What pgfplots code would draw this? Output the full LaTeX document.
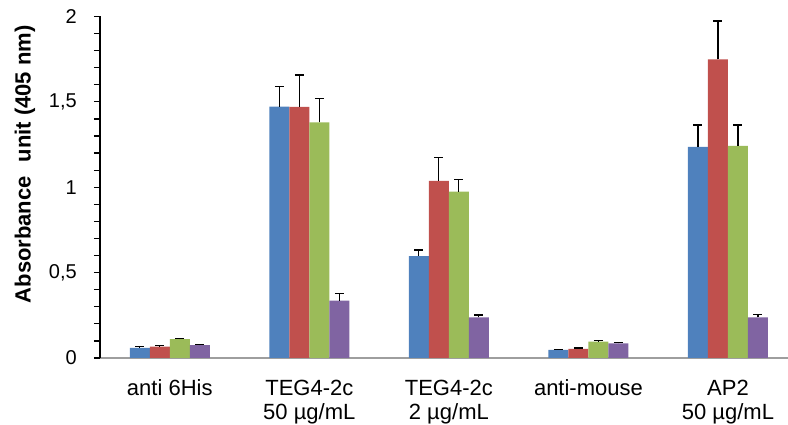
\documentclass[border=0pt]{standalone}
\usepackage{pgfplots}
\pgfplotsset{compat=1.18}
\usepackage{fontspec}
\setmainfont{Liberation Sans}
\definecolor{cblue}{HTML}{4F81BD}
\definecolor{cred}{HTML}{C0504D}
\definecolor{cgreen}{HTML}{9BBB59}
\definecolor{cpurple}{HTML}{8064A2}
\pgfplotsset{errstyle/.style={
  error bars/y dir=plus, error bars/y explicit,
  error bars/error bar style={black, line width=1.2pt},
  error bars/error mark options={rotate=90, black, mark size=4.5pt, line width=1.2pt}}}
\begin{document}
\begin{tikzpicture}
\begin{axis}[
  at={(0,0)}, anchor=south west,
  scale only axis, width=688pt, height=341.5pt,
  xmin=-0.5, xmax=4.43, ymin=0, ymax=2,
  axis lines*=left,
  x axis line style={draw=black!38, line width=1.5pt},
  y axis line style={draw=black, line width=1.3pt},
  ybar=0pt, bar width=20pt,
  xtick={0,1,2,3,4},
  xticklabels={{\strut anti 6His},{\strut TEG4-2c\\50 µg/mL},{\strut TEG4-2c\\2 µg/mL},{\strut anti-mouse},{\strut AP2\\50 µg/mL}},
  x tick style={draw=none},
  xticklabel style={font=\fontsize{22}{24}\selectfont, align=center, anchor=north, inner sep=0pt, yshift=-15pt},
  ytick={0,0.5,1,1.5,2},
  yticklabels={0,{0,5},1,{1,5},2},
  minor y tick num=4,
  tick align=outside,
  major tick length=6pt, minor tick length=6pt,
  y tick style={black, line width=1.2pt},
  yticklabel style={font=\fontsize{20}{24}\selectfont, inner sep=0pt, xshift=-17pt},
  ylabel={\textbf{Absorbance\hspace{0.35em} unit (405 nm)}},
  every axis y label/.style={at={(axis description cs:-0.109,0.567)}, rotate=90, anchor=center, font=\fontsize{22}{26}\selectfont},
]
\addplot[fill=cblue, draw=none, errstyle] coordinates {
  (0,0.060) +- (0,0.005)
  (1,1.472) +- (0,0.117)
  (2,0.597) +- (0,0.035)
  (3,0.047) +- (0,0.004)
  (4,1.237) +- (0,0.128)
};
\addplot[fill=cred, draw=none, errstyle] coordinates {
  (0,0.066) +- (0,0.006)
  (1,1.470) +- (0,0.187)
  (2,1.038) +- (0,0.137)
  (3,0.053) +- (0,0.005)
  (4,1.749) +- (0,0.225)
};
\addplot[fill=cgreen, draw=none, errstyle] coordinates {
  (0,0.110) +- (0,0.006)
  (1,1.380) +- (0,0.141)
  (2,0.974) +- (0,0.073)
  (3,0.096) +- (0,0.005)
  (4,1.243) +- (0,0.122)
};
\addplot[fill=cpurple, draw=none, errstyle] coordinates {
  (0,0.076) +- (0,0.005)
  (1,0.336) +- (0,0.043)
  (2,0.238) +- (0,0.014)
  (3,0.086) +- (0,0.005)
  (4,0.238) +- (0,0.018)
};
\end{axis}
\pgfresetboundingbox
\path[use as bounding box] (-100pt,-67pt) rectangle (688pt,358pt);
\end{tikzpicture}
\end{document}
